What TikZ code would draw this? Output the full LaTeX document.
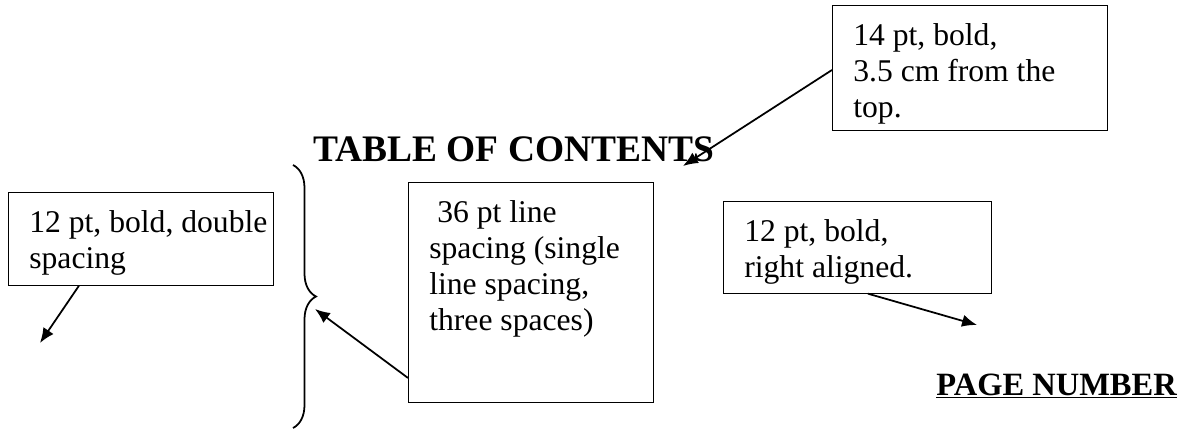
\documentclass[tikz,border=0pt]{standalone}
\usepackage{fontspec}
\setmainfont{Liberation Serif}
\usetikzlibrary{arrows.meta, decorations.pathreplacing}
\newcommand{\notefont}{\fontsize{18}{20.5}\selectfont}
\newcommand{\notetext}[3]{\parbox[t][#2][t]{#1}{\raggedright\leftskip=0.42cm\vspace*{0.36cm}#3}}

\begin{document}
\begin{tikzpicture}[x=0.02cm, y=-0.02cm]

\tikzset{note/.style = {draw, anchor=north west, inner sep=0pt, font=\notefont}}
\tikzset{heading/.style = {anchor=base west, inner sep=0pt}}
\tikzset{edge/.style = {-{Latex[length=8.5pt,width=7pt]}, line width=1pt}}
\useasboundingbox (0,0) rectangle (1193,432);
%headings
\node[heading, font=\fontsize{21.3}{25}\selectfont\bfseries] (toc) at (313,162) {TABLE OF CONTENTS};
\node[heading, font=\fontsize{18.5}{22}\selectfont\bfseries] (pagenum) at (936,395) {\underline{PAGE NUMBER}};
%notes
\node[note] (doublenote) at (8,192) {\notetext{5.30cm}{1.86cm}{12 pt, bold, double\\spacing}};
\node[note] (spacingnote) at (408,182) {\notetext{4.90cm}{4.40cm}{\ 36 pt line\\spacing (single\\line spacing,\\three spaces)}};
\node[note] (topnote) at (832,5) {\notetext{5.50cm}{2.50cm}{14 pt, bold,\\3.5 cm from the\\top.}};
\node[note] (rightnote) at (723,201) {\notetext{5.36cm}{1.84cm}{12 pt, bold,\\right aligned.}};
%brace
\draw[line width=1pt, decorate, decoration={brace, amplitude=0.46cm}] (293,165) -- (293,428);
\coordinate (bracetip) at (315,309);
\coordinate (doubleend) at (40,343);
\coordinate (tocend) at (683,166);
\coordinate (pageend) at (977,325);
%arrows
\draw[edge] ([xshift=1.42cm]doublenote.south west) -- (doubleend);
\draw[edge] ([yshift=-3.92cm]spacingnote.north west) -- (bracetip);
\draw[edge] ([yshift=-1.3cm]topnote.north west) -- (tocend);
\draw[edge] ([xshift=2.9cm]rightnote.south west) -- (pageend);

\end{tikzpicture}
\end{document}
